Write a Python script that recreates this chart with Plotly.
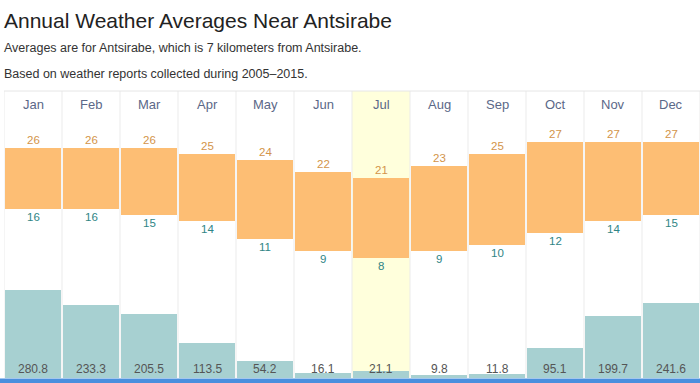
import plotly.graph_objects as go

months = ["Jan", "Feb", "Mar", "Apr", "May", "Jun", "Jul", "Aug", "Sep", "Oct", "Nov", "Dec"]
high_temp = [26, 26, 26, 25, 24, 22, 21, 23, 25, 27, 27, 27]
low_temp = [16, 16, 15, 14, 11, 9, 8, 9, 10, 12, 14, 15]
precip = [280.8, 233.3, 205.5, 113.5, 54.2, 16.1, 21.1, 9.8, 11.8, 95.1, 199.7, 241.6]
highlight_month = "Jul"

title = "Annual Weather Averages Near Antsirabe"
subtitle1 = "Averages are for Antsirabe, which is 7 kilometers from Antsirabe."
subtitle2 = "Based on weather reports collected during 2005\u20132015."

FONT = "Liberation Sans, Arial, sans-serif"
ORANGE = "#FDBE74"
TEAL = "#A7D0D1"
HIGH_TXT = "#D3944A"
LOW_TXT = "#2F8585"
MONTH_TXT = "#5B6888"
PREC_TXT = "#555555"

idx = list(range(len(months)))

fig = go.Figure()

fig.add_trace(go.Bar(
    x=idx, y=precip, yaxis="y2", width=0.975,
    marker=dict(color=TEAL, line=dict(width=0)),
    hoverinfo="skip", showlegend=False,
))
fig.add_trace(go.Bar(
    x=idx, y=[h - l for h, l in zip(high_temp, low_temp)], base=low_temp,
    yaxis="y", width=0.975,
    marker=dict(color=ORANGE, line=dict(width=0)),
    hoverinfo="skip", showlegend=False,
))

shapes = []
hi = months.index(highlight_month)
shapes.append(dict(type="rect", xref="x", yref="paper", x0=hi - 0.5, x1=hi + 0.5,
                   y0=0, y1=1, fillcolor="#FFFFDC", line=dict(width=0), layer="below"))
for i in range(len(months) + 1):
    shapes.append(dict(type="line", xref="x", yref="paper", x0=i - 0.5, x1=i - 0.5,
                       y0=0, y1=1, line=dict(color="#EBEBEB", width=1), layer="below"))
shapes.append(dict(type="line", xref="paper", yref="paper", x0=0, x1=1, y0=1, y1=1,
                   line=dict(color="#E6E6E6", width=1), layer="below"))
shapes.append(dict(type="rect", xref="paper", yref="paper", x0=-0.01, x1=1.01,
                   y0=-0.002, y1=-0.03, fillcolor="#4A8FDE", line=dict(width=0)))

annotations = []
for i, m in enumerate(months):
    annotations.append(dict(x=i, y=0.9547, xref="x", yref="paper", text=m, showarrow=False,
                            font=dict(family=FONT, size=13, color=MONTH_TXT),
                            xanchor="center", yanchor="middle"))
    annotations.append(dict(x=i, y=high_temp[i], xref="x", yref="y", text=str(high_temp[i]),
                            showarrow=False, font=dict(family=FONT, size=11.5, color=HIGH_TXT),
                            xanchor="center", yanchor="bottom", yshift=0))
    annotations.append(dict(x=i, y=low_temp[i], xref="x", yref="y", text=str(low_temp[i]),
                            showarrow=False, font=dict(family=FONT, size=11.5, color=LOW_TXT),
                            xanchor="center", yanchor="top", yshift=0))
    annotations.append(dict(x=i, y=0, xref="x", yref="y2", text=f"{precip[i]:.1f}",
                            showarrow=False, font=dict(family=FONT, size=12, color=PREC_TXT),
                            xanchor="center", yanchor="bottom", yshift=0))

annotations.append(dict(x=0, y=1.244, xref="paper", yref="paper", text=title, showarrow=False,
                        font=dict(family=FONT, size=21, color="#222222"),
                        xanchor="left", yanchor="middle", xshift=-2))
annotations.append(dict(x=0, y=1.1498, xref="paper", yref="paper", text=subtitle1, showarrow=False,
                        font=dict(family=FONT, size=12.5, color="#333333"),
                        xanchor="left", yanchor="middle", xshift=-2))
annotations.append(dict(x=0, y=1.0592, xref="paper", yref="paper", text=subtitle2, showarrow=False,
                        font=dict(family=FONT, size=12.5, color="#333333"),
                        xanchor="left", yanchor="middle", xshift=-2))

fig.update_layout(
    width=700, height=383, autosize=False,
    margin=dict(l=4, r=0, t=91, b=5),
    paper_bgcolor="white", plot_bgcolor="rgba(0,0,0,0)",
    barmode="overlay", bargap=0,
    xaxis=dict(range=[-0.5, len(months) - 0.5], visible=False, fixedrange=True),
    yaxis=dict(range=[-11.74, 35.31], visible=False, fixedrange=True),
    yaxis2=dict(range=[0, 920], visible=False, overlaying="y", fixedrange=True),
    shapes=shapes, annotations=annotations,
    font=dict(family=FONT),
)

fig.write_html(
    "out.html",
    config={"displayModeBar": False},
    post_script="document.body.style.margin='0';document.body.style.overflow='hidden';",
)
